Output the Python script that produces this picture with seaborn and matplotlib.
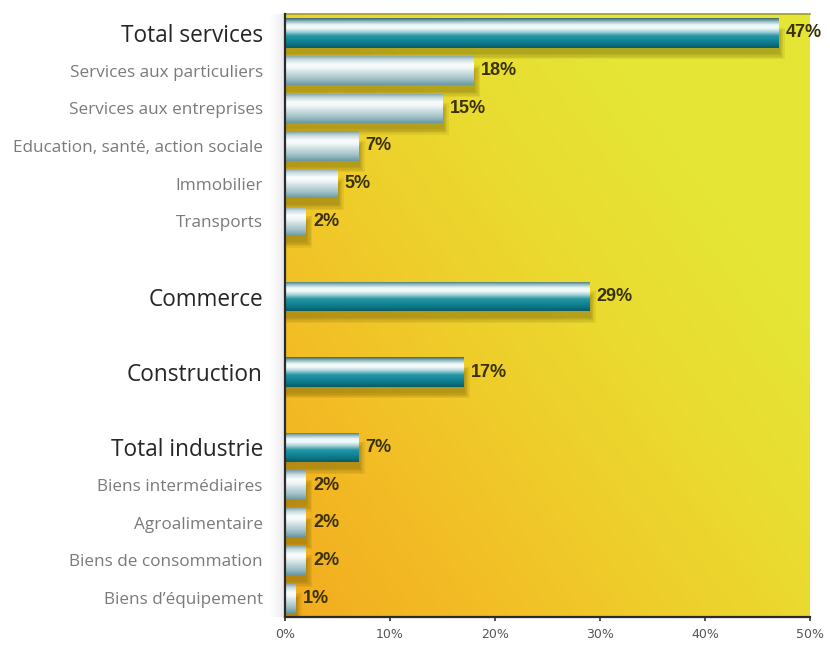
import numpy as np
import matplotlib
matplotlib.use("Agg")
import matplotlib.pyplot as plt
from matplotlib.colors import LinearSegmentedColormap
from matplotlib.patches import Rectangle
import pandas as pd
import seaborn as sns

# Share of each sector (in %)
sectors = ["Total services", "Commerce", "Construction", "Total industrie"]
sector_shares = [47, 29, 17, 7]

service_branches = ["Services aux particuliers", "Services aux entreprises",
                    "Education, santé, action sociale", "Immobilier", "Transports"]
service_shares = [18, 15, 7, 5, 2]

industry_branches = ["Biens intermédiaires", "Agroalimentaire",
                     "Biens de consommation", "Biens d’équipement"]
industry_shares = [2, 2, 2, 1]

x_ticks = [0, 10, 20, 30, 40, 50]

# Build the row table: each sector total followed by its branches,
# with one empty slot between groups.
branches = {"Total services": (service_branches, service_shares),
            "Total industrie": (industry_branches, industry_shares)}
rows, slot = [], 0
for name, share in zip(sectors, sector_shares):
    rows.append((name, share, "total", slot))
    slot += 1
    for b, v in zip(*branches.get(name, ([], []))):
        rows.append((b, v, "branch", slot))
        slot += 1
    slot += 1
df = pd.DataFrame(rows, columns=["label", "share", "level", "pos"])
n_slots = df["pos"].max() + 1

sns.set_theme(style="white")
plt.rcParams["font.family"] = ["Open Sans", "DejaVu Sans"]

fig = plt.figure(figsize=(8.3, 6.5), dpi=100)
ax = fig.add_axes([285 / 830, 1 - 617 / 650, 525 / 830, 603 / 650])
ax.set_facecolor("none")

# Warm background: orange in the lower left fading to yellow at the top right
bg_cmap = LinearSegmentedColormap.from_list(
    "bg", ["#f2ac1f", "#f3bb25", "#efcc2a", "#eadb30", "#e5e535"])
h, w = 300, 400
yy, xx = np.mgrid[0:1:h * 1j, 0:1:w * 1j]
yy = yy[::-1]
t = np.clip(0.72 * xx + 0.6 * yy, 0, 1)
ax.imshow(t, cmap=bg_cmap, extent=(0, 1, 0, 1), transform=ax.transAxes,
          aspect="auto", zorder=0, origin="upper")

# Soft shadow to the left of the plotting area
sh = np.zeros((1, 60, 4))
sh[..., 0:3] = (0.55, 0.50, 0.55)
sh[0, :, 3] = np.linspace(0, 1, 60) ** 1.8 * 0.22
ax.imshow(sh, extent=(-0.035, 0, 0, 1), transform=ax.transAxes,
          aspect="auto", zorder=0, clip_on=False)

levels = ["total", "branch"]
sns.barplot(data=df, x="share", y="pos", hue="level", hue_order=levels,
            orient="h", native_scale=True, dodge=False, width=0.78,
            palette={"total": "#138a9a", "branch": "#b8d0d4"},
            linewidth=0, edgecolor="none",
            legend=False, ax=ax, zorder=2)

# Vertical shading that gives the bars a rounded, tube-like look
shade = {
    "total": LinearSegmentedColormap.from_list("teal", [
        (0.0, "#3f6a70"), (0.10, "#8cb8bd"), (0.22, "#eef7f7"),
        (0.33, "#f4fafa"), (0.45, "#a9d4da"), (0.60, "#2596a5"),
        (0.85, "#0a7a8a"), (1.0, "#0a5a66")]),
    "branch": LinearSegmentedColormap.from_list("grey", [
        (0.0, "#7b9ca2"), (0.14, "#c6dadd"), (0.3, "#f9fcfc"),
        (0.42, "#f2f7f7"), (0.6, "#cbdde0"), (0.82, "#9cbec5"),
        (1.0, "#6d98a1")]),
}
grad = np.linspace(0, 1, 64)[:, None]

for level, container in zip(levels, ax.containers):
    for bar in container:
        x0, y0 = bar.get_x(), bar.get_y()
        bw, bh = bar.get_width(), bar.get_height()
        if np.isnan(bw) or bw == 0:
            continue
        # blurred drop shadow under the bar
        for k in range(5):
            grow = 0.035 * k
            ax.add_patch(Rectangle((x0, y0 + bh * 0.5 - grow),
                                   bw + 0.1 + 0.12 * k, bh * 0.72 + 2 * grow,
                                   facecolor="#5a4c00", alpha=0.09,
                                   edgecolor="none", zorder=1.5))
        im = ax.imshow(grad, cmap=shade[level], aspect="auto",
                       extent=(x0, x0 + bw, y0 + bh, y0), origin="upper",
                       zorder=2.5)
        im.set_clip_path(bar)

for container in ax.containers:
    ax.bar_label(container, fmt="%g%%", padding=5, fontsize=13,
                 fontweight="bold", color="#3a3206",
                 family=["Liberation Sans", "DejaVu Sans"], zorder=4)

ax.set_xlim(0, 50)
ax.set_ylim(n_slots - 0.5, -0.5)
ax.set_xticks(x_ticks, [f"{v}%" for v in x_ticks])
ax.set_yticks(df["pos"], df["label"])
ax.set_xlabel("")
ax.set_ylabel("")

for lab, level in zip(ax.get_yticklabels(), df["level"]):
    if level == "total":
        lab.set_fontsize(16.3)
        lab.set_color("#262626")
    else:
        lab.set_fontsize(12.3)
        lab.set_color("#7a7a7a")

ax.tick_params(axis="y", length=0, pad=16)
ax.tick_params(axis="x", length=3, width=1.2, color="#333333", pad=5,
               labelsize=9, labelcolor="#555555", direction="out",
               bottom=True)
for lab in ax.get_xticklabels():
    lab.set_family(["DejaVu Sans"])

ax.spines["right"].set_visible(False)
ax.spines["top"].set_color("#9c9a30")
ax.spines["top"].set_linewidth(1.2)
for side in ("left", "bottom"):
    ax.spines[side].set_color("#2b2b2b")
    ax.spines[side].set_linewidth(1.6)
    ax.spines[side].set_zorder(5)

fig.savefig("out.png", dpi=100)
